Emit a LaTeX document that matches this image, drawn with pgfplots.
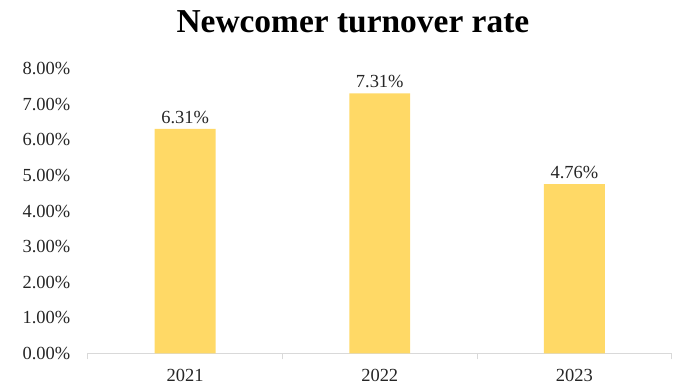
\documentclass[border=0pt]{standalone}
\usepackage{pgfplots}
\pgfplotsset{compat=1.18}
\usepackage{fontspec}
\setmainfont{Liberation Serif}
\definecolor{baryellow}{HTML}{FFD966}
\definecolor{axisgray}{HTML}{D9D9D9}
\definecolor{txt}{HTML}{262626}
\begin{document}
\begin{tikzpicture}
\begin{axis}[
  name=ax,
  scale only axis,
  width=585pt, height=285pt,
  xmin=-0.5, xmax=2.5,
  ymin=0, ymax=8,
  ytick={0,1,...,8},
  xtick={-0.5,0.5,1.5,2.5},
  xticklabels={},
  extra x ticks={0,1,2},
  extra x tick labels={2021,2022,2023},
  extra x tick style={major tick length=0pt, xticklabel style={yshift=-12pt}},
  axis x line*=bottom,
  axis y line*=left,
  y axis line style={draw=none},
  x axis line style={axisgray, line width=0.8pt, -},
  major tick length=6pt,
  tick align=outside,
  xtick style={axisgray, line width=0.8pt},
  ytick style={draw=none},
  yticklabel={\pgfmathprintnumber[fixed,fixed zerofill,precision=2]{\tick}\%},
  /pgf/number format/assume math mode=true,
  tick label style={font=\fontsize{18.5}{21}\selectfont, text=txt},
  yticklabel style={xshift=-8pt},
  title={Newcomer turnover rate},
  title style={at={(0.454,1)}, anchor=base, yshift=30pt, font=\fontsize{33.5}{40}\selectfont\bfseries},
  ybar, bar width=61pt,
  nodes near coords={\pgfmathprintnumber[fixed,fixed zerofill,precision=2]{\pgfplotspointmeta}\%},
  nodes near coords style={font=\fontsize{18.5}{21}\selectfont, text=txt, /pgf/number format/assume math mode=true, yshift=2pt},
]
\addplot[fill=baryellow, draw=none] coordinates {(0,6.31) (1,7.31) (2,4.76)};
\end{axis}
\path ([xshift=-88pt,yshift=-30pt]ax.south west) ++(0,0);
\path ([xshift=2pt,yshift=69pt]ax.north east) ++(0,0);
\end{tikzpicture}
\end{document}
